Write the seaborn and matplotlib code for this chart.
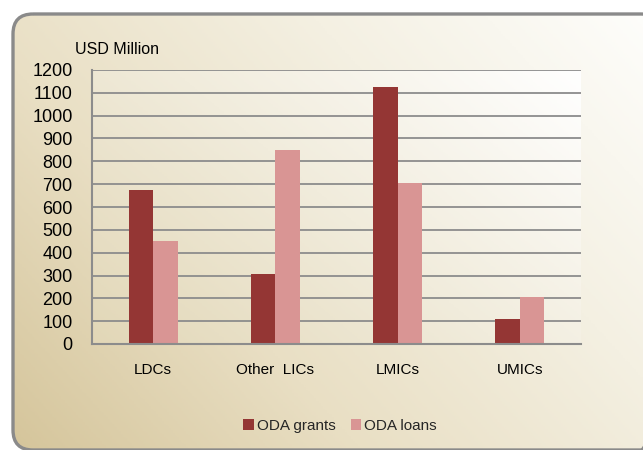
import numpy as np
import pandas as pd
import matplotlib
matplotlib.use("Agg")
import matplotlib.pyplot as plt
import seaborn as sns
from matplotlib.colors import LinearSegmentedColormap
from matplotlib.patches import FancyBboxPatch, Patch

# ---- data ----
categories = ["LDCs", "Other  LICs", "LMICs", "UMICs"]
oda_grants = [675, 305, 1125, 110]
oda_loans = [450, 850, 705, 205]
series_names = ["ODA grants", "ODA loans"]
y_ticks = list(range(0, 1201, 100))

df = pd.DataFrame({
    "category": categories * 2,
    "value": oda_grants + oda_loans,
    "series": [series_names[0]] * 4 + [series_names[1]] * 4,
})

sns.set_theme(style="white")
plt.rcParams["font.family"] = ["Liberation Sans", "DejaVu Sans"]

W, H = 643, 450
fig = plt.figure(figsize=(W / 100, H / 100), dpi=100)
fig.patch.set_facecolor("white")

# background gradient with rounded border (extends past right edge)
bg = fig.add_axes([0, 0, 1, 1], zorder=-10)
bg.set_xlim(0, W)
bg.set_ylim(H, 0)
bg.axis("off")
cmap_bg = LinearSegmentedColormap.from_list("bg", ["#d5c59b", "#e9dfc4", "#f4f0e2", "#fefefc"])
xx, yy = np.meshgrid(np.linspace(0, 1, 300), np.linspace(0, 1, 300))
grad = (xx * 0.62 + (1 - yy) * 0.38)
box = FancyBboxPatch((13, 14), 648, 436, boxstyle="round,pad=0,rounding_size=20",
                     facecolor="none", edgecolor="#8a8a8a", linewidth=2.4, zorder=5)
bg.add_patch(box)
im = bg.imshow(grad, cmap=cmap_bg, extent=[13, 661, 450, 14], origin="upper", aspect="auto", zorder=1)
im.set_clip_path(box)

# main axes
ax = fig.add_axes([92 / W, 1 - 344 / H, (581 - 92) / W, (344 - 70) / H])
ax.set_facecolor("none")
cmap_ax = LinearSegmentedColormap.from_list("ax", ["#e2d7b7", "#f1ecdc", "#ffffff"])
gx, gy = np.meshgrid(np.linspace(0, 1, 200), np.linspace(0, 1, 200))
ax.imshow(gx * 0.6 + gy * 0.4, cmap=cmap_ax, extent=[0, 1, 0, 1], origin="lower",
          transform=ax.transAxes, aspect="auto", zorder=0)

sns.barplot(data=df, x="category", y="value", hue="series",
            palette=["#943634", "#d99594"], width=0.4, saturation=1,
            linewidth=0, edgecolor="none",
            ax=ax, zorder=3, legend=False)

ax.set_xlim(-0.5, 3.5)
ax.set_ylim(0, 1200)
ax.set_yticks(y_ticks)
ax.set_yticklabels([str(v) for v in y_ticks])
for v in y_ticks[1:]:
    ax.axhline(v, color="#8c8c8c", linewidth=1.3, zorder=2)
ax.set_xlabel("")
ax.set_ylabel("")
for s in ["top", "right"]:
    ax.spines[s].set_visible(False)
for s in ["left", "bottom"]:
    ax.spines[s].set_color("#8c8c8c")
    ax.spines[s].set_linewidth(1.5)
    ax.spines[s].set_zorder(4)
ax.tick_params(axis="y", length=0, pad=14, labelsize=13, labelcolor="black")
ax.tick_params(axis="x", length=0, pad=14, labelsize=11, labelcolor="black")

fig.text(75 / W, 1 - 50 / H, "USD Million", fontsize=11.5, ha="left", va="center", color="black")

handles = [Patch(facecolor="#943634", edgecolor="none"), Patch(facecolor="#d99594", edgecolor="none")]
fig.legend(handles, series_names, loc="center", bbox_to_anchor=(340 / W, 1 - 426 / H),
           ncol=2, frameon=False, fontsize=11, handlelength=0.7, handleheight=0.7,
           handletextpad=0.2, columnspacing=1.0)

fig.savefig("out.png", dpi=100)
